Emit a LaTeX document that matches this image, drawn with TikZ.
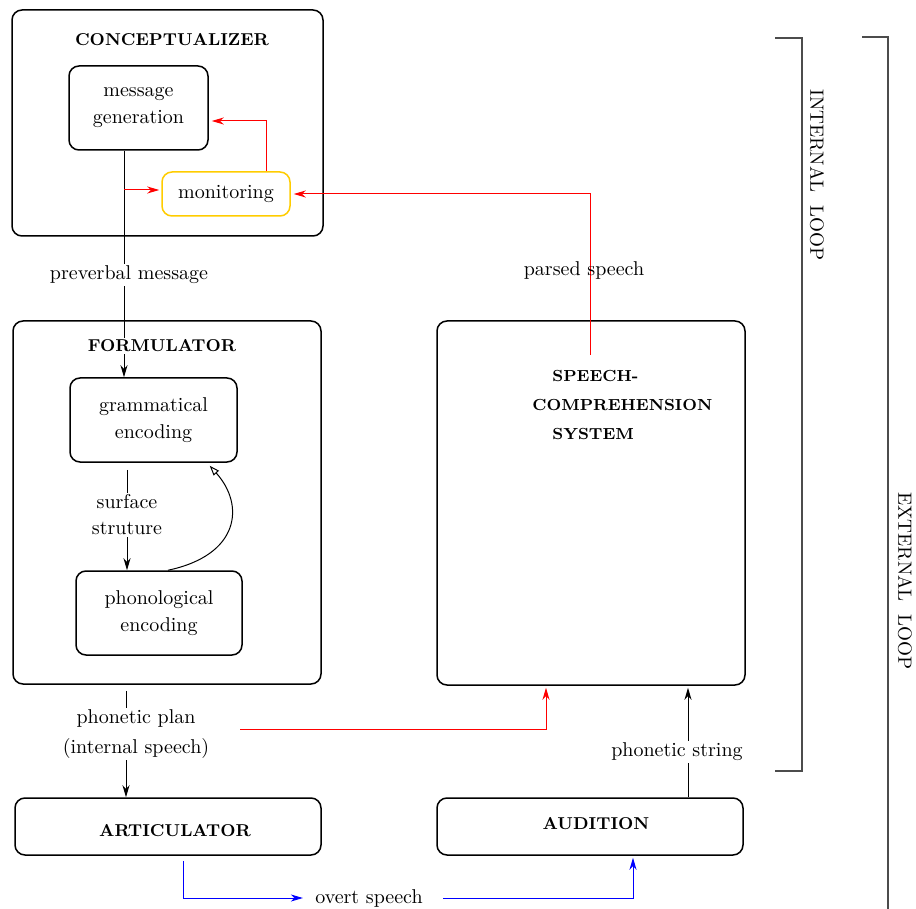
\documentclass[tikz,border=0pt]{standalone}
\usetikzlibrary{arrows.meta}
\definecolor{myred}{RGB}{255,0,0}
\definecolor{mygold}{RGB}{255,204,0}
\definecolor{myblue}{RGB}{0,0,255}
\newcommand\dgtitle{\bfseries\fontsize{8.6}{10}\selectfont}
\begin{document}
\begin{tikzpicture}[x=0.5pt,y=-0.5pt,
  box/.style={draw, line width=0.75pt, rounded corners=5pt, inner sep=0pt, align=center,
              font=\fontsize{10}{13.5}\selectfont},
  title/.style={inner sep=1pt, fill=white, font=\dgtitle},
  lbl/.style={inner sep=1pt, align=center, font=\fontsize{10}{13}\selectfont},
  conn/.style={line width=0.5pt},
  tip/.style={-{Stealth[length=6pt,width=3.5pt,inset=1.8pt]}},
  otip/.style={-{Triangle[open,length=5pt,width=3.5pt]}},
  loopline/.style={line width=0.6pt, draw=black!70},
  looplbl/.style={rotate=-90, inner sep=0pt, font=\fontsize{9.6}{11}\selectfont}]
\useasboundingbox (0,0) rectangle (916,909);

% boxes
\node[box, minimum width=155.5pt, minimum height=113pt] (concept) at (167.5,123) {};
\node[box, minimum width=69.5pt, minimum height=42pt] (msg) at (138.5,108) {message\\generation};
\node[box, draw=mygold, minimum width=64pt, minimum height=22pt] (mon) at (226,194) {monitoring};
\node[box, minimum width=154pt, minimum height=181.5pt] (form) at (167,502.5) {};
\node[box, minimum width=83.5pt, minimum height=42pt] (gram) at (153.5,420) {grammatical\\encoding};
\node[box, minimum width=83pt, minimum height=42pt] (phon) at (159,613) {phonological\\encoding};
\node[box, minimum width=153pt, minimum height=28.5pt] (artic) at (168,826.5) {};
\node[box, minimum width=154pt, minimum height=182pt] (speech) at (591,503) {};
\node[box, minimum width=153pt, minimum height=28.5pt] (aud) at (590,826.5) {};

% helper coordinates
\coordinate (pvx) at (124,0);
\coordinate (redx) at (266,0);
\coordinate (ps) at (590,355);
\coordinate (sx) at (127,0);
\coordinate (cx1) at (168,0);
\coordinate (cx2) at (207,0);
\coordinate (px) at (126,0);
\coordinate (rp) at (240,729);
\coordinate (rx) at (546,0);
\coordinate (psx) at (688,0);
\coordinate (bx1) at (183,0);
\coordinate (bx2) at (633,0);
\coordinate (rb) at (124,190);

% text nodes that are endpoints
\node[lbl, inner sep=3pt] (overt) at (369,898) {overt speech};

% connectors
\draw[conn, tip] (msg.south -| pvx) -- (gram.north -| pvx);
\draw[conn, myred, tip, shorten >=1pt] (rb) -- (rb -| mon.west);
\draw[conn, myred, tip, shorten >=1.5pt] (mon.north -| redx) |- ([yshift=-6.5pt]msg.east);
\draw[conn, myred, tip, shorten >=1.5pt] (ps) |- (mon.east);
\draw[conn, tip, shorten <=3.5pt] (gram.south -| sx) -- (phon.north -| sx);
\draw[conn, otip, shorten >=2pt] (phon.north -| cx1) .. controls (240,555) and (245,505) .. (gram.south -| cx2);
\draw[conn, tip, shorten <=3pt] (form.south -| px) -- (artic.north -| px);
\draw[conn, myred, tip, shorten >=1pt] (rp) -| (speech.south -| rx);
\draw[conn, tip, shorten >=1pt] (aud.north -| psx) -- (speech.south -| psx);
\draw[conn, myblue, tip, shorten <=2.5pt, shorten >=3pt] (artic.south -| bx1) |- (overt.west);
\draw[conn, myblue, tip, shorten <=7pt, shorten >=1pt] (overt.east) -| (aud.south -| bx2);

% titles and labels
\node[title] (concepttitle) at (172,40) {CONCEPTUALIZER};
\node[title] (formtitle) at (162,346) {FORMULATOR};
\node[title] (artictitle) at (175,831) {ARTICULATOR};
\node[title] (audtitle) at (596,824) {AUDITION};
\node[title, font=\bfseries\fontsize{8}{10}\selectfont, anchor=west] (sp1) at (550,376) {SPEECH-};
\node[title, font=\bfseries\fontsize{8}{10}\selectfont, anchor=west] (sp2) at (530,405) {COMPREHENSION};
\node[title, font=\bfseries\fontsize{8}{10}\selectfont, anchor=west] (sp3) at (550,434) {SYSTEM};
\node[lbl, fill=white] (pvlabel) at (129,275) {preverbal message};
\node[lbl, fill=white] (sslabel) at (127,515) {surface\\struture};
\node[lbl, fill=white, font=\fontsize{10}{15}\selectfont] (pplabel) at (136,734) {phonetic plan\\(internal speech)};
\node[lbl] (parsedlabel) at (584,271) {parsed speech};
\node[lbl, fill=white] (pslabel) at (677,752) {phonetic string};

% loop brackets
\coordinate (i1) at (775,38);
\coordinate (i2) at (802,38);
\coordinate (i3) at (802,771);
\coordinate (i4) at (775,771);
\draw[loopline] (i1) -- (i2) -- (i3) -- (i4);
\coordinate (e1) at (862,37);
\coordinate (e2) at (888,37);
\coordinate (e3) at (888,909);
\draw[loopline] (e1) -- (e2) -- (e3);
\node[looplbl] (intlbl) at (817,175) {INTERNAL~~LOOP};
\node[looplbl] (extlbl) at (905,581) {EXTERNAL~~LOOP};
\end{tikzpicture}
\end{document}
